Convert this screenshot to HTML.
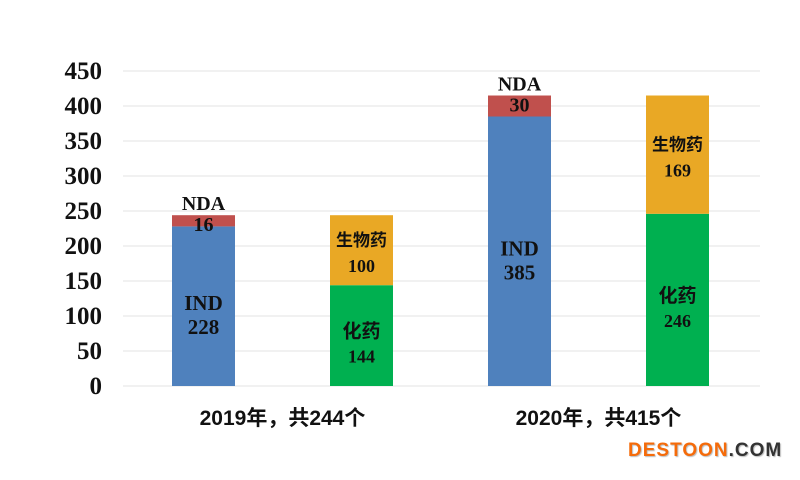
<!DOCTYPE html>
<html><head><meta charset="utf-8"><style>
body{margin:0;background:#fff;width:800px;height:475px;overflow:hidden;font-family:"Liberation Sans","Noto Sans CJK SC",sans-serif}
svg text{font-weight:bold}
</style></head><body>
<svg id="c" width="800" height="475"></svg>
<div style="position:absolute;left:628px;top:440px;font:bold 19px 'Liberation Sans','DejaVu Sans',sans-serif;letter-spacing:1px;text-shadow:1px 1px 1px #bbb"><span style="color:#f56b0a">DESTOON</span><span style="color:#333">.COM</span></div>
<script>
const ticks=[0,50,100,150,200,250,300,350,400,450];
const groups=["2019年，共244个","2020年，共415个"];
const indVals=[228,385];
const ndaVals=[16,30];
const chemVals=[144,246];
const bioVals=[100,169];
const svg=document.getElementById('c');
const NS='http://www.w3.org/2000/svg';
const y0=386,k=0.7;
const y=v=>y0-v*k;
function el(t,a,txt){const e=document.createElementNS(NS,t);for(const n in a)e.setAttribute(n,a[n]);if(txt!=null)e.textContent=txt;svg.appendChild(e);return e;}
ticks.forEach(t=>{
 const g=el('line',{x1:123,x2:760,y1:y(t),y2:y(t),stroke:'#e3e3e3','stroke-width':1});
 
 
 const l=el('text',{x:102,y:y(t)+8,'text-anchor':'end','font-size':25,'font-family':'Liberation Serif,serif',fill:'#111'},t);
 
 
});
const serif='Liberation Serif,Noto Serif CJK SC,serif';
const cjk='Liberation Sans,Noto Sans CJK SC,sans-serif';
function bar(x,v0,v,col,name){const r=el('rect',{x:x,y:y(v0+v),width:63,height:v*k,fill:col});
 
 }
function txt(x,yy,s,f,fs,name){const t=el('text',{x:x,y:yy,'text-anchor':'middle','font-size':fs,'font-family':f,fill:'#111'},s);
 
 }
groups.forEach((g,i)=>{
 const xa=172+i*316,xb=330+i*316,ca=xa+31.5,cb=xb+31.5;
 bar(xa,0,indVals[i],'#4f81bd','bar-ind-'+i);
 bar(xa,indVals[i],ndaVals[i],'#c0504d','bar-nda-'+i);
 bar(xb,0,chemVals[i],'#00b050','bar-chem-'+i);
 bar(xb,chemVals[i],bioVals[i],'#e9a825','bar-bio-'+i);
 const im=y(indVals[i]/2);
 txt(ca,im+4,'IND',serif,21,'label-ind-'+i);
 txt(ca,im+28,indVals[i],serif,21,'value-ind-'+i);
 const nt=y(indVals[i]+ndaVals[i]);
 txt(ca,nt-5,'NDA',serif,20,'label-nda-'+i);
 txt(ca,nt+16,ndaVals[i],serif,20,'value-nda-'+i);
 const cm=y(chemVals[i]/2);
 txt(cb,cm+2,'化药',cjk,19,'label-chem-'+i);
 txt(cb,cm+27,chemVals[i],serif,18,'value-chem-'+i);
 const bm=y(chemVals[i]+bioVals[i]/2);
 txt(cb,bm-4,'生物药',cjk,17,'label-bio-'+i);
 txt(cb,bm+22,bioVals[i],serif,18,'value-bio-'+i);
 txt((xa+xb+63)/2,425,g,cjk,21,'x-label-'+i);
});
</script>
</body></html>
